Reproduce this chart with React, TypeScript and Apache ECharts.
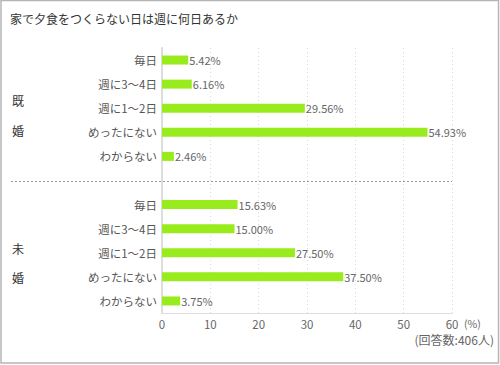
import React, { useEffect, useRef } from "react";
import * as echarts from "echarts";

const title = "家で夕食をつくらない日は週に何日あるか";
const categories = ["毎日", "週に3〜4日", "週に1〜2日", "めったにない", "わからない"];
const marriedValues = [5.42, 6.16, 29.56, 54.93, 2.46];
const singleValues = [15.63, 15.0, 27.5, 37.5, 3.75];
const xTicks = [0, 10, 20, 30, 40, 50, 60];
const groupMarried = ["既", "婚"];
const groupSingle = ["未", "婚"];
const unitLabel = "(%)";
const noteLabel = "(回答数:406人)";

const FONT = '"Noto Sans CJK JP", "Noto Sans", sans-serif';

export default function App() {
  const ref = useRef<HTMLDivElement>(null);
  useEffect(() => {
    if (!ref.current) return;
    const chart = echarts.init(ref.current, null, { renderer: "svg" });
    const keys = [
      ...categories.map((_, i) => "a" + i),
      "gap",
      ...categories.map((_, i) => "b" + i),
    ];
    const names: Record<string, string> = {};
    categories.forEach((c, i) => {
      names["a" + i] = c;
      names["b" + i] = c;
    });
    names["gap"] = "";
    const values: (number | string)[] = [...marriedValues, "-", ...singleValues];

    const txt = (text: string, x: number, y: number, size: number, fill: string, align = "left") => ({
      type: "text",
      silent: true,
      style: {
        text,
        x,
        y,
        fill,
        fontSize: size,
        fontFamily: FONT,
        textAlign: align,
        textVerticalAlign: "middle",
      },
    });

    chart.setOption({
      animation: false,
      textStyle: { fontFamily: FONT },
      grid: { left: 162, right: 48, top: 48, bottom: 52, containLabel: false },
      xAxis: {
        type: "value",
        min: xTicks[0],
        max: xTicks[xTicks.length - 1],
        interval: 10,
        axisLine: { show: true, lineStyle: { color: "#dddddd", width: 1 } },
        axisTick: { show: false },
        axisLabel: { color: "#666", fontSize: 11.5, margin: 5, fontFamily: FONT },
        splitLine: { show: true, lineStyle: { color: "#d8d8d8", type: [1, 3], width: 1 } },
      },
      yAxis: {
        type: "category",
        inverse: true,
        data: keys,
        axisLine: { show: true, lineStyle: { color: "#dddddd", width: 2 } },
        axisTick: { show: false },
        axisLabel: {
          color: "#555",
          fontSize: 11.5,
          margin: 5,
          fontFamily: FONT,
          formatter: (v: string) => names[v] ?? "",
        },
        splitLine: { show: false },
      },
      series: [
        {
          type: "bar",
          data: values,
          barWidth: 9,
          itemStyle: { color: "#98ec1d" },
          label: {
            show: true,
            position: "right",
            distance: 1,
            color: "#666",
            fontSize: 11,
            fontFamily: FONT,
            formatter: (p: any) => Number(p.value).toFixed(2) + "%",
          },
        },
      ],
      graphic: [
        {
          type: "rect",
          silent: true,
          shape: { x: 1, y: 0.5, width: 497.5, height: 362.5 },
          style: { fill: "none", stroke: "#b5b5b5", lineWidth: 1.5 },
        },
        txt(title, 10, 18, 12, "#333"),
        txt(groupMarried[0], 12, 100, 12, "#333"),
        txt(groupMarried[1], 12, 130, 12, "#333"),
        txt(groupSingle[0], 12, 248, 12, "#333"),
        txt(groupSingle[1], 12, 277, 12, "#333"),
        {
          type: "line",
          silent: true,
          shape: { x1: 11, y1: 181.5, x2: 452, y2: 181.5 },
          style: { stroke: "#999", lineWidth: 1, lineDash: [2, 2] },
        },
        txt(unitLabel, 464, 323, 10.5, "#666"),
        txt(noteLabel, 494, 339, 12, "#666", "right"),
      ],
    });
    return () => chart.dispose();
  }, []);
  return (
    <div
      ref={ref}
      style={{ position: "fixed", left: 0, top: 0, width: 500, height: 365, background: "#fff" }}
    />
  );
}
